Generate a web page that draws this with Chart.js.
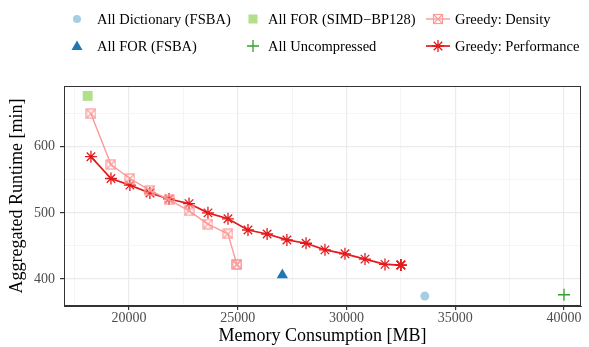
<!DOCTYPE html>
<html>
<head>
<meta charset="utf-8">
<script src="https://cdn.jsdelivr.net/npm/chart.js@4.4.1/dist/chart.umd.min.js"></script>
<style>
  html,body{margin:0;padding:0;background:#fff;}
  #wrap{position:relative;width:589px;height:347px;}
  canvas{position:absolute;left:0;top:0;}
  .lg{position:absolute;font-family:"Liberation Serif",serif;font-size:14.5px;color:#000;white-space:nowrap;line-height:16px;}
  .sym{position:absolute;}
</style>
</head>
<body>
<div id="wrap">
  <canvas id="c" width="589" height="347"></canvas>
  <div id="legend"></div>
</div>
<script>
// ---- data ----
const dictX = [33600];
const dictY = [374];
const forFsbaX = [27050];
const forFsbaY = [406];
const simdX = [18100];
const simdY = [677];
const uncompX = [40000];
const uncompY = [376];
const densityX = [18250, 19170, 20040, 20960, 21840, 22760, 23630, 24550, 24960, 24960];
const densityY = [650, 573, 552, 534, 520, 503, 483, 468, 422, 422];
const perfX = [18250, 19170, 20040, 20960, 21840, 22760, 23630, 24550, 25470, 26350, 27260, 28140, 29010, 29930, 30850, 31770, 32500, 32500, 32500];
const perfY = [585, 552, 542, 530, 521, 514, 500, 491, 474, 468, 459, 454, 444, 438, 430, 422, 421, 421, 421];
const xTicks = [17500, 20000, 22500, 25000, 27500, 30000, 32500, 35000, 37500, 40000];
const xMajor = [20000, 25000, 30000, 35000, 40000];
const yTicks = [400, 450, 500, 550, 600, 650];
const yMajor = [400, 500, 600];
const legendNames = ["All Dictionary (FSBA)", "All FOR (FSBA)", "All FOR (SIMD\u2212BP128)", "All Uncompressed", "Greedy: Density", "Greedy: Performance"];

const col = {dict:'#a6cee3', forf:'#1f78b4', simd:'#b2df8a', unc:'#33a02c', den:'#fb9a99', perf:'#e31a1c'};

function pts(xs, ys){ return xs.map((x,i)=>({x:x, y:ys[i]})); }

// boxed-X marker for density
function boxX(size, color){
  const c = document.createElement('canvas');
  c.width = size; c.height = size;
  const g = c.getContext('2d');
  g.strokeStyle = color; g.lineWidth = 1.2;
  const p = 1;
  g.strokeRect(p, p, size-2*p, size-2*p);
  g.beginPath();
  g.moveTo(p,p); g.lineTo(size-p,size-p);
  g.moveTo(size-p,p); g.lineTo(p,size-p);
  g.stroke();
  return c;
}
const denMarker = boxX(11, col.den);

const serif = '"Liberation Serif", serif';

const borderPlugin = {
  id:'panelBorder',
  afterDraw(chart){
    const a = chart.chartArea, g = chart.ctx;
    g.save();
    g.strokeStyle = '#333333'; g.lineWidth = 1;
    g.strokeRect(Math.round(a.left)+0.5, Math.round(a.top)+0.5, Math.round(a.right-a.left)-1, Math.round(a.bottom-a.top)-1);
    g.restore();
  }
};

new Chart(document.getElementById('c'), {
  type:'scatter',
  data:{datasets:[
    {label:legendNames[0], data:pts(dictX,dictY), pointStyle:'circle', pointRadius:4.5, backgroundColor:col.dict, borderColor:col.dict, borderWidth:0},
    {label:legendNames[1], data:pts(forFsbaX,forFsbaY), pointStyle:'triangle', pointRadius:6.5, backgroundColor:col.forf, borderColor:col.forf, borderWidth:0},
    {label:legendNames[2], data:pts(simdX,simdY), pointStyle:'rect', pointRadius:7, backgroundColor:col.simd, borderColor:col.simd, borderWidth:0},
    {label:legendNames[3], data:pts(uncompX,uncompY), pointStyle:'cross', pointRadius:6, backgroundColor:col.unc, borderColor:col.unc, borderWidth:1.3},
    {label:legendNames[4], data:pts(densityX,densityY), showLine:true, borderColor:col.den, borderWidth:1.4, pointStyle:denMarker, pointRadius:5, backgroundColor:col.den},
    {label:legendNames[5], data:pts(perfX,perfY), showLine:true, borderColor:col.perf, borderWidth:1.7, pointStyle:'star', pointRadius:6, pointBorderWidth:1.3, backgroundColor:col.perf, pointBorderColor:col.perf}
  ]},
  options:{
    responsive:false, animation:false,
    layout:{padding:{top:86, right:8, left:0, bottom:0}},
    plugins:{legend:{display:false}, tooltip:{enabled:false}},
    scales:{
      x:{
        type:'linear', min:17011, max:40782,
        afterBuildTicks(s){ s.ticks = xTicks.map(v=>({value:v})); },
        afterFit(s){ s.height = 41; },
        ticks:{autoSkip:false, maxRotation:0, padding:0, color:'#4d4d4d', font:{family:serif, size:14},
          callback:(v)=> xMajor.includes(v) ? String(v) : ''},
        grid:{
          color:(c)=> xMajor.includes(c.tick.value) ? '#ebebeb' : '#f3f3f3',
          lineWidth:(c)=> xMajor.includes(c.tick.value) ? 1.2 : 0.8,
          tickColor:(c)=> xMajor.includes(c.tick.value) ? '#333333' : 'rgba(0,0,0,0)',
          tickLength:4
        },
        border:{display:true, color:'#333333', width:1},
        title:{display:true, text:'Memory Consumption [MB]', color:'#000', font:{family:serif, size:18}, padding:{top:0, bottom:0}}
      },
      y:{
        type:'linear', min:359, max:692,
        afterBuildTicks(s){ s.ticks = yTicks.map(v=>({value:v})); },
        afterFit(s){ s.width = 64; },
        ticks:{autoSkip:false, padding:5, color:'#4d4d4d', font:{family:serif, size:14},
          callback:(v)=> yMajor.includes(v) ? String(v) : ''},
        grid:{
          color:(c)=> yMajor.includes(c.tick.value) ? '#ebebeb' : '#f3f3f3',
          lineWidth:(c)=> yMajor.includes(c.tick.value) ? 1.2 : 0.8,
          tickColor:(c)=> yMajor.includes(c.tick.value) ? '#333333' : 'rgba(0,0,0,0)',
          tickLength:4
        },
        border:{display:true, color:'#333333', width:1},
        title:{display:true, text:'Aggregated Runtime [min]', color:'#000', font:{family:serif, size:18}, padding:{top:6, bottom:0}}
      }
    }
  },
  plugins:[borderPlugin]
});

// ---- legend (HTML text + SVG keys) ----
const lgItems = [
  {name:legendNames[0], sx:77, tx:97, y:19, svg:`<svg width="20" height="20"><circle cx="10" cy="10" r="4" fill="${col.dict}"/></svg>`},
  {name:legendNames[2], sx:253, tx:268, y:19, svg:`<svg width="20" height="20"><rect x="5.5" y="5.5" width="9" height="9" fill="${col.simd}"/></svg>`},
  {name:legendNames[4], sx:438, tx:455, y:19, svg:`<svg width="30" height="20"><line x1="3" y1="10" x2="27" y2="10" stroke="${col.den}" stroke-width="1.4"/><rect x="10.5" y="5.5" width="9" height="9" fill="none" stroke="${col.den}" stroke-width="1.2"/><path d="M10.5 5.5L19.5 14.5M19.5 5.5L10.5 14.5" stroke="${col.den}" stroke-width="1.2"/></svg>`},
  {name:legendNames[1], sx:77, tx:97, y:46, svg:`<svg width="20" height="20"><path d="M10 4.5L15.5 14L4.5 14Z" fill="${col.forf}"/></svg>`},
  {name:legendNames[3], sx:253, tx:268, y:46, svg:`<svg width="20" height="20"><path d="M10 4V16M4 10H16" stroke="${col.unc}" stroke-width="1.3"/></svg>`},
  {name:legendNames[5], sx:438, tx:455, y:46, svg:`<svg width="30" height="20"><line x1="3" y1="10" x2="27" y2="10" stroke="${col.perf}" stroke-width="1.7"/><path d="M15 4V16M9 10H21M10.8 5.8L19.2 14.2M19.2 5.8L10.8 14.2" stroke="${col.perf}" stroke-width="1.3"/></svg>`}
];
const lg = document.getElementById('legend');
lgItems.forEach(it=>{
  const s = document.createElement('div');
  s.className = 'sym';
  const w = it.svg.startsWith('<svg width="30"') ? 30 : 20;
  s.style.left = (it.sx - w/2) + 'px';
  s.style.top = (it.y - 10) + 'px';
  s.innerHTML = it.svg;
  lg.appendChild(s);
  const t = document.createElement('div');
  t.className = 'lg';
  t.style.left = it.tx + 'px';
  t.style.top = (it.y - 8) + 'px';
  t.textContent = it.name;
  lg.appendChild(t);
});
</script>
</body>
</html>
